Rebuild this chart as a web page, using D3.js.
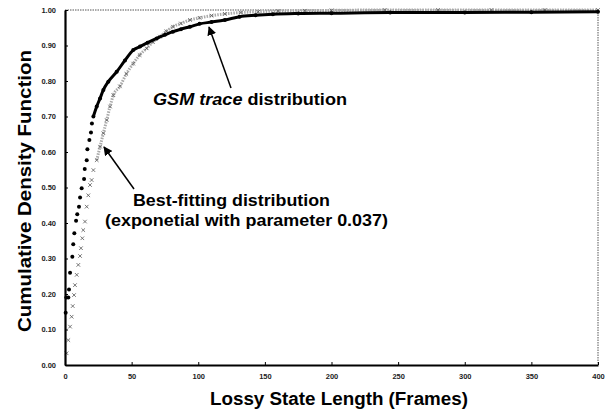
<!DOCTYPE html>
<html>
<head>
<meta charset="utf-8">
<script src="https://cdn.jsdelivr.net/npm/d3@7"></script>
<style>
  body { margin: 0; background: #fff; }
  svg { display: block; font-family: "Liberation Sans", Arial, sans-serif; }
  .tick text { font-size: 7.5px; font-weight: bold; fill: #222; }
</style>
</head>
<body>
<svg width="605" height="418"></svg>
<script>
// values: [frames, cdf]
const gsmFrames = [0.5, 1, 2.5, 3, 3.8, 5.5, 6.2, 7, 8.3, 9.2, 10.5, 11.3, 12.5, 14.3, 14.8, 16.3, 16.8, 18.3, 19.5, 20.2, 21.3, 23.8, 26.3, 28.8, 32.5, 38.8, 45, 51.2, 56.3, 62, 68.8, 75, 81, 87, 93.8, 101, 110, 120, 131, 143, 156, 175, 200, 244, 300, 350, 400]
const gsmCdf = [0.147, 0.19, 0.19, 0.213, 0.26, 0.305, 0.34, 0.371, 0.406, 0.425, 0.446, 0.472, 0.498, 0.524, 0.552, 0.577, 0.608, 0.634, 0.655, 0.68, 0.70, 0.728, 0.751, 0.775, 0.798, 0.826, 0.858, 0.887, 0.897, 0.908, 0.92, 0.93, 0.939, 0.946, 0.953, 0.961, 0.966, 0.972, 0.981, 0.985, 0.988, 0.99, 0.991, 0.993, 0.993, 0.994, 0.995]

const expFrames = [1.2, 2.5, 3.8, 5, 5.8, 6.8, 7.5, 8.8, 10, 11.3, 12, 13, 13.7, 15, 16.3, 17.5, 18.8, 20, 21.3, 23.8, 26.3, 28.8, 31.3, 33.8, 36.3, 41.2, 46, 51.2, 56, 61.3, 66, 71.2, 76, 81, 87, 93.8, 101, 110, 120, 132, 145, 160, 180, 200, 240, 280, 320, 360, 400]
const expCdf = [0.033, 0.07, 0.108, 0.136, 0.166, 0.197, 0.225, 0.254, 0.282, 0.307, 0.329, 0.357, 0.38, 0.404, 0.446, 0.478, 0.507, 0.521, 0.549, 0.577, 0.615, 0.653, 0.69, 0.728, 0.76, 0.785, 0.82, 0.849, 0.873, 0.892, 0.91, 0.925, 0.94, 0.953, 0.962, 0.972, 0.978, 0.984, 0.989, 0.993, 0.995, 0.997, 0.998, 0.999, 1.0, 1.0, 1.0, 1.0, 1.0]

const xTicks = [0, 50, 100, 150, 200, 250, 300, 350, 400]
const yTicks = [0, 0.1, 0.2, 0.3, 0.4, 0.5, 0.6, 0.7, 0.8, 0.9, 1.0]

const svg = d3.select('svg')
const x = d3.scaleLinear().domain([0, 400]).range([65, 598])
const y = d3.scaleLinear().domain([0, 1]).range([365, 10])

const gsm = gsmFrames.map((f, i) => [f, gsmCdf[i]])
const expo = expFrames.map((f, i) => [f, expCdf[i]])

// frame: dotted top and right edges
svg.append('path')
  .attr('d', `M${x(0)},${y(1)}H${x(400)}V${y(0)}`)
  .attr('fill', 'none')
  .attr('stroke', '#555')
  .attr('stroke-width', 1)
  .attr('stroke-dasharray', '1.5,1')

const line = d3.line().x(d => x(d[0])).y(d => y(d[1])).curve(d3.curveMonotoneX)

// exponential fit: grey crosses, dense band further out
svg.append('path')
  .datum(expo.filter(d => d[0] >= 23))
  .attr('d', line)
  .attr('fill', 'none')
  .attr('stroke', '#aaa')
  .attr('stroke-width', 3)
  .attr('stroke-dasharray', '1.5,1.2')

svg.append('g').selectAll('path')
  .data(expo)
  .join('path')
  .attr('transform', d => `translate(${x(d[0])},${y(d[1])})`)
  .attr('d', d3.symbol(d3.symbolTimes, 10))
  .attr('stroke', '#555')
  .attr('stroke-width', 0.8)
  .attr('fill', 'none')

// GSM trace: black dots, thick line once they get dense
svg.append('path')
  .datum(gsm.filter(d => d[0] >= 21))
  .attr('d', line)
  .attr('fill', 'none')
  .attr('stroke', '#000')
  .attr('stroke-width', 3)

svg.append('g').selectAll('circle')
  .data(gsm)
  .join('circle')
  .attr('cx', d => x(d[0]))
  .attr('cy', d => y(d[1]))
  .attr('r', 2)
  .attr('fill', '#000')

// axes
const xAxis = svg.append('g')
  .attr('transform', `translate(0,${y(0)})`)
  .call(d3.axisBottom(x).tickValues(xTicks).tickFormat(d3.format('d')).tickSizeInner(-3).tickSizeOuter(0).tickPadding(9))
xAxis.select('.domain').attr('stroke-width', 2.2)

const yAxis = svg.append('g')
  .attr('transform', `translate(${x(0)},0)`)
  .call(d3.axisLeft(y).tickValues(yTicks).tickFormat(d3.format('.2f')).tickSizeInner(-3).tickSizeOuter(0).tickPadding(9))
yAxis.select('.domain').attr('stroke-width', 2.2)

// titles
svg.append('text')
  .attr('x', 339).attr('y', 405)
  .attr('text-anchor', 'middle')
  .attr('font-size', 17.5).attr('font-weight', 'bold')
  .attr('textLength', 258).attr('lengthAdjust', 'spacingAndGlyphs')
  .text('Lossy State Length (Frames)')

svg.append('text')
  .attr('transform', 'translate(31,191) rotate(-90)')
  .attr('text-anchor', 'middle')
  .attr('font-size', 17.5).attr('font-weight', 'bold')
  .attr('textLength', 282).attr('lengthAdjust', 'spacingAndGlyphs')
  .text('Cumulative Density Function')

// annotations
const ann1 = svg.append('text')
  .attr('x', 153).attr('y', 105)
  .attr('font-size', 16.5).attr('font-weight', 'bold')
  .attr('textLength', 194).attr('lengthAdjust', 'spacingAndGlyphs')
ann1.append('tspan').attr('font-style', 'italic').text('GSM trace')
ann1.append('tspan').text(' distribution')

svg.append('text')
  .attr('x', 133).attr('y', 206)
  .attr('font-size', 16.5).attr('font-weight', 'bold')
  .attr('textLength', 197).attr('lengthAdjust', 'spacingAndGlyphs')
  .text('Best-fitting distribution')
svg.append('text')
  .attr('x', 105).attr('y', 226)
  .attr('font-size', 16.5).attr('font-weight', 'bold')
  .attr('textLength', 283).attr('lengthAdjust', 'spacingAndGlyphs')
  .text('(exponetial with parameter 0.037)')

// arrows
svg.append('defs').append('marker')
  .attr('id', 'head')
  .attr('viewBox', '0 0 10 10')
  .attr('refX', 9).attr('refY', 5)
  .attr('markerWidth', 9).attr('markerHeight', 9)
  .attr('markerUnits', 'userSpaceOnUse')
  .attr('orient', 'auto')
  .append('path').attr('d', 'M0,0L10,5L0,10Z').attr('fill', '#000')

const arrows = [[231, 88, 209, 27], [134, 189, 104, 147]]
svg.append('g').selectAll('line')
  .data(arrows)
  .join('line')
  .attr('x1', d => d[0]).attr('y1', d => d[1])
  .attr('x2', d => d[2]).attr('y2', d => d[3])
  .attr('stroke', '#000')
  .attr('stroke-width', 1.5)
  .attr('marker-end', 'url(#head)')
</script>
</body>
</html>
